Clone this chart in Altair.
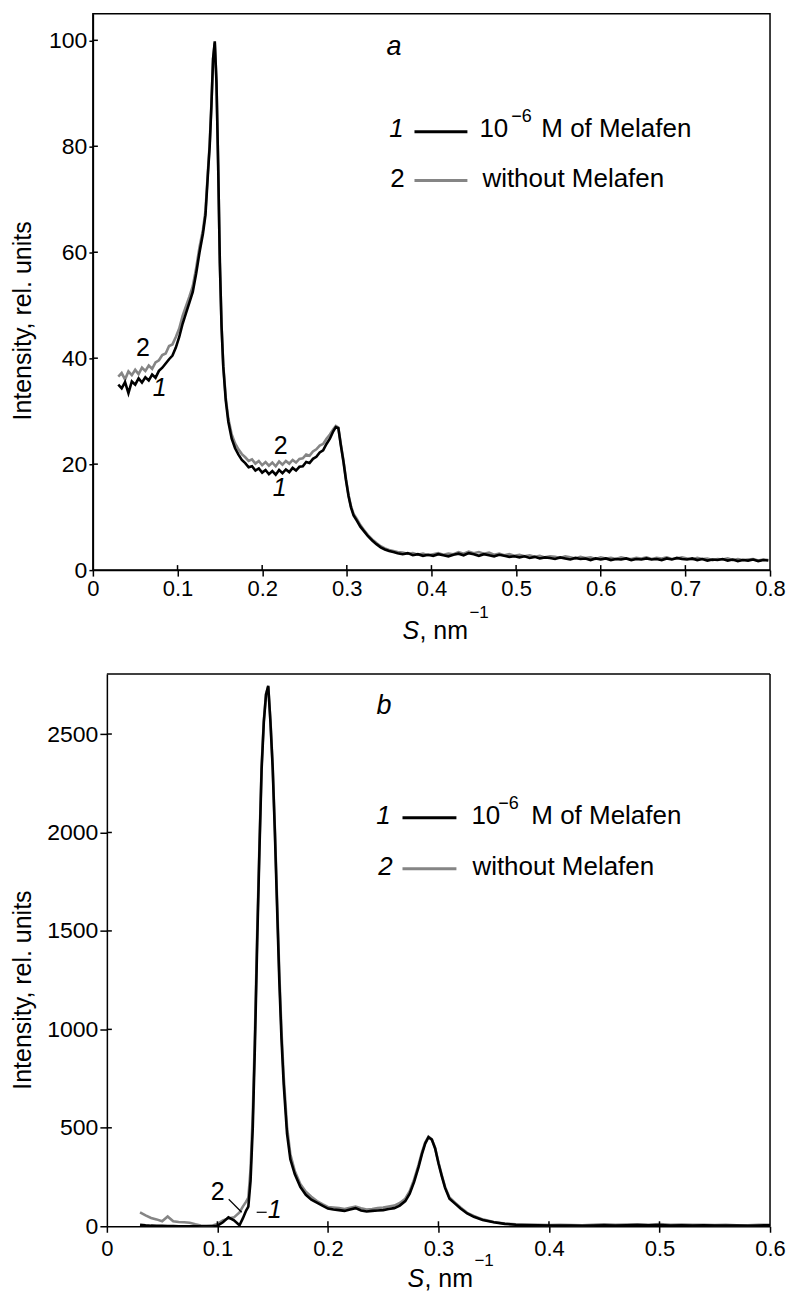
import altair as alt
import pandas as pd

FONT = "Liberation Sans"
BLACK = "#000000"
GRAY = "#858585"

# ---------------- panel a (S, nm^-1  vs  intensity, rel. units) ----------------
S_a = [
    0.030, 0.034, 0.038, 0.042, 0.046, 0.050, 0.054, 0.058, 0.062, 0.066,
    0.070, 0.074, 0.078, 0.082, 0.086, 0.090, 0.094, 0.098, 0.102, 0.106,
    0.110, 0.114, 0.118, 0.122, 0.126, 0.130,
    0.133, 0.136, 0.138, 0.140, 0.142, 0.144, 0.146, 0.148, 0.150, 0.152,
    0.154, 0.157, 0.160, 0.164, 0.168,
    0.172, 0.176, 0.180, 0.184, 0.188, 0.192, 0.196, 0.200, 0.204, 0.208,
    0.212, 0.216, 0.220, 0.224, 0.228, 0.232, 0.236, 0.240, 0.244, 0.248,
    0.252, 0.256, 0.260, 0.264, 0.268, 0.272, 0.276, 0.280, 0.284,
    0.287, 0.290, 0.293, 0.296, 0.299, 0.302, 0.305, 0.308, 0.312, 0.316,
    0.320, 0.325, 0.330, 0.335, 0.340, 0.345, 0.350, 0.355, 0.360,
    0.366, 0.372, 0.378, 0.384, 0.390, 0.396, 0.402, 0.408, 0.414, 0.420,
    0.426, 0.432, 0.438, 0.444, 0.450, 0.456, 0.462, 0.468, 0.474, 0.480,
    0.486, 0.492, 0.498, 0.504, 0.510, 0.516, 0.522, 0.528, 0.534, 0.540,
    0.546, 0.552, 0.558, 0.564, 0.570, 0.576, 0.582, 0.588, 0.594, 0.600,
    0.606, 0.612, 0.618, 0.624, 0.630, 0.636, 0.642, 0.648, 0.654, 0.660,
    0.666, 0.672, 0.678, 0.684, 0.690, 0.696, 0.702, 0.708, 0.714, 0.720,
    0.726, 0.732, 0.738, 0.744, 0.750, 0.756, 0.762, 0.768, 0.774, 0.780,
    0.786, 0.792, 0.798,
]
# curve 1: 10^-6 M of Melafen (black)
I1_a = [
    35.0, 34.3, 35.5, 33.4, 35.6, 35.0, 36.2, 35.4, 36.4, 35.8,
    36.9, 36.3, 37.6, 38.2, 39.0, 39.8, 40.5, 42.0, 44.0, 46.5,
    48.5, 50.5, 52.5, 56.0, 60.0, 63.5,
    67.0, 75.0, 80.0, 87.5, 96.5, 99.8, 92.0, 76.5, 58.0, 46.0,
    38.5, 32.0, 28.0, 24.8, 23.0,
    21.8, 20.8, 20.2, 19.4, 19.6, 18.8, 19.2, 18.4, 18.9, 18.1,
    18.7, 18.0, 18.9, 18.3, 19.0, 18.5, 19.3, 18.8, 19.5, 19.6,
    20.4, 20.2, 21.0, 21.4, 22.2, 22.6, 23.8, 24.8, 26.2,
    27.0, 26.8, 23.5, 20.5, 17.0, 14.0, 11.8, 10.3, 9.3, 8.2,
    7.4, 6.4, 5.6, 4.9, 4.3, 3.9, 3.6, 3.4, 3.2,
    3.0, 3.2, 2.8, 3.0, 2.7, 2.9, 2.7, 3.0, 2.8, 2.6,
    2.9, 3.1, 2.8, 3.2, 3.0, 2.7, 3.0, 2.8, 2.6, 2.9,
    2.7, 2.5, 2.6, 2.4, 2.6, 2.3, 2.5, 2.2, 2.4, 2.3,
    2.1, 2.4, 2.2, 2.0, 2.3, 2.1, 2.2, 1.9, 2.2, 2.0,
    2.2, 1.9, 2.1, 2.0, 2.2, 1.9, 2.1, 2.0, 2.2, 2.0,
    2.1, 1.9, 2.2, 2.0, 2.3, 2.1, 2.0, 2.2, 1.9, 2.1,
    1.8, 2.0, 1.9, 2.1, 1.8, 2.0, 1.7, 1.9, 1.8, 2.0,
    1.7, 1.9, 1.8,
]
# curve 2: without Melafen (gray)
I2_a = [
    36.5, 37.2, 36.0, 37.5, 36.8, 37.8, 37.0, 38.2, 37.6, 38.6,
    38.0, 39.2, 39.6, 40.6, 40.9, 42.3, 42.6, 44.0, 45.6, 48.0,
    49.8, 51.6, 53.6, 57.0, 61.0, 64.2,
    67.8, 75.5, 80.5, 88.0, 96.5, 99.5, 92.5, 76.5, 58.0, 46.2,
    38.8, 32.5, 28.6, 25.6, 23.9,
    22.8, 21.9, 21.3, 20.6, 20.9, 20.1, 20.6, 19.8, 20.4, 19.7,
    20.3, 19.6, 20.5, 19.9, 20.6, 20.1, 20.8, 20.3, 21.0, 21.1,
    21.8, 21.6, 22.4, 22.8, 23.5, 23.8, 24.8, 25.6, 26.6,
    27.2, 26.9, 23.7, 20.7, 17.2, 14.2, 12.0, 10.6, 9.6, 8.5,
    7.6, 6.6, 5.8, 5.1, 4.5, 4.1, 3.8, 3.6, 3.4,
    3.3, 3.1, 3.2, 2.9, 3.1, 2.8, 3.0, 3.2, 2.9, 3.1,
    3.0, 3.4, 3.1, 3.5, 3.2, 3.4, 3.1, 3.3, 2.9, 3.1,
    2.8, 3.0, 2.7, 2.9, 2.6, 2.8, 2.5, 2.7, 2.4, 2.6,
    2.5, 2.3, 2.6, 2.4, 2.2, 2.5, 2.3, 2.4, 2.1, 2.4,
    2.2, 2.3, 2.1, 2.4, 2.2, 2.1, 2.3, 2.2, 2.4, 2.1,
    2.3, 2.2, 2.4, 2.1, 2.2, 2.4, 2.2, 2.0, 2.3, 2.1,
    2.2, 1.9, 2.1, 2.0, 2.2, 1.9, 2.1, 1.9, 2.0, 2.1,
    1.8, 2.0, 1.9,
]

# ---------------- panel b ----------------
S_b = [
    0.030, 0.035, 0.040, 0.045, 0.050, 0.055, 0.060, 0.065, 0.070, 0.075,
    0.080, 0.085, 0.090, 0.095, 0.100, 0.105, 0.110, 0.115, 0.120,
    0.123, 0.126, 0.128, 0.130, 0.132, 0.134, 0.136, 0.138, 0.140, 0.142,
    0.144, 0.146, 0.148, 0.150, 0.152, 0.154, 0.156, 0.158, 0.160, 0.163,
    0.166, 0.170, 0.175,
    0.180, 0.185, 0.190, 0.195, 0.200, 0.205, 0.210, 0.215, 0.220, 0.225,
    0.230, 0.235, 0.240, 0.245, 0.250, 0.255, 0.260, 0.265, 0.270,
    0.274, 0.278, 0.282, 0.285, 0.288, 0.291, 0.294, 0.297, 0.300, 0.303,
    0.306, 0.310, 0.315, 0.320, 0.326, 0.332, 0.340, 0.350, 0.360,
    0.370, 0.380, 0.390, 0.400, 0.410, 0.420, 0.430, 0.440, 0.450, 0.460,
    0.470, 0.480, 0.490, 0.500, 0.510, 0.520, 0.530, 0.540, 0.550, 0.560,
    0.570, 0.580, 0.590, 0.600,
]
I1_b = [
    8, 5, 3, 2, 2, 1, 1, 0, 0, 0,
    0, 0, 0, 0, 3, 20, 45, 30, 5,
    40, 80, 100, 230, 500, 930, 1440, 1900, 2320, 2560,
    2700, 2745, 2560, 2330, 2000, 1620, 1250, 950, 720, 470,
    340, 265, 200,
    160, 135, 120, 105, 90, 85, 82, 78, 85, 92,
    80, 75, 78, 80, 82, 88, 92, 105, 128,
    165, 225, 300, 365, 420, 452, 440, 395, 320, 255,
    195, 140, 115, 90, 65, 48, 32, 20, 12,
    8, 6, 5, 4, 4, 3, 2, 3, 5, 4,
    5, 6, 5, 6, 4, 5, 4, 5, 3, 4,
    3, 2, 4, 5,
]
I2_b = [
    70, 55, 42, 35, 25, 50, 25, 22, 20, 18,
    10, 4, 2, 3, 12, 30, 40, 45, 70,
    100, 125, 146, 290, 570, 990, 1490, 1930, 2340, 2570,
    2705, 2740, 2570, 2340, 2020, 1660, 1290, 990, 760, 505,
    365, 280, 215,
    175, 150, 128, 112, 98, 95, 92, 88, 94, 100,
    92, 85, 88, 92, 95, 100, 105, 118, 140,
    178, 238, 312, 375, 425, 455, 442, 398, 325, 260,
    200, 146, 120, 95, 68, 52, 35, 22, 14,
    10, 8, 7, 6, 8, 6, 5, 7, 10, 8,
    9, 10, 8, 11, 8, 9, 7, 8, 6, 7,
    5, 5, 7, 8,
]

XT_a = [0, 0.1, 0.2, 0.3, 0.4, 0.5, 0.6, 0.7, 0.8]
YT_a = [0, 20, 40, 60, 80, 100]
XT_b = [0, 0.1, 0.2, 0.3, 0.4, 0.5, 0.6]
YT_b = [0, 500, 1000, 1500, 2000, 2500]

one = pd.DataFrame({"k": [0]})


def label(text, x, y, size=26, italic=False, align="left", baseline="alphabetic"):
    return alt.Chart(one).mark_text(
        text=text, font=FONT, fontSize=size,
        fontStyle="italic" if italic else "normal",
        align=align, baseline=baseline, color=BLACK,
    ).encode(x=alt.value(x), y=alt.value(y))


def seg(x1, y1, x2, y2, color=BLACK, w=1.2):
    return alt.Chart(one).mark_rule(color=color, strokeWidth=w).encode(
        x=alt.value(x1), y=alt.value(y1), x2=alt.value(x2), y2=alt.value(y2)
    )


XLABEL = "datum.value == 0 ? '0' : format(datum.value, '.1f')"
YLABEL = "format(datum.value, 'd')"


def panel(S, I1, I2, xdom, ydom, xt, yt, w, h, x0, ytick, xpad, titleX, titleY):
    # x0: pixel where the frame (and the y axis) starts inside the view
    xs = alt.Scale(domain=xdom, range=[x0, w], nice=False, zero=False)
    ys = alt.Scale(domain=ydom, nice=False, zero=False)
    xax = alt.Axis(values=xt, labelExpr=XLABEL, title=None, grid=False,
                   tickSize=6, tickWidth=1.5, tickColor=BLACK,
                   domainColor=BLACK, domainWidth=1.5,
                   labelFont=FONT, labelFontSize=22, labelColor=BLACK,
                   labelPadding=xpad, labelFlush=False, labelOverlap=False)
    yax = alt.Axis(values=yt, labelExpr=YLABEL, grid=False, offset=-x0,
                   title="Intensity, rel. units",
                   titleFont=FONT, titleFontSize=25, titleFontWeight="normal",
                   titleColor=BLACK, titleX=titleX, titleY=titleY,
                   tickSize=ytick, tickWidth=1.5, tickColor=BLACK,
                   domainColor=BLACK, domainWidth=1.5,
                   labelFont=FONT, labelFontSize=23, labelColor=BLACK,
                   labelPadding=2, labelFlush=False, labelOverlap=False)
    d1 = pd.DataFrame(list(zip(S, I1)), columns=["S", "I"])
    d2 = pd.DataFrame(list(zip(S, I2)), columns=["S", "I"])
    gray = alt.Chart(d2).mark_line(color=GRAY, strokeWidth=2.6, clip=True).encode(
        x=alt.X("S:Q", scale=xs, axis=xax), y=alt.Y("I:Q", scale=ys, axis=yax))
    black = alt.Chart(d1).mark_line(color=BLACK, strokeWidth=2.6, clip=True).encode(
        x=alt.X("S:Q", scale=xs), y=alt.Y("I:Q", scale=ys))
    # inner halves of the crossing ticks
    xin = alt.Chart(pd.DataFrame({"v": xt[1:-1]})).mark_rule(color=BLACK, strokeWidth=1.5).encode(
        x=alt.X("v:Q", scale=xs), y=alt.value(h), y2=alt.value(h - 5))
    yin = alt.Chart(pd.DataFrame({"v": yt[1:]})).mark_rule(color=BLACK, strokeWidth=1.5).encode(
        y=alt.Y("v:Q", scale=ys), x=alt.value(x0), x2=alt.value(x0 + 5))
    return [gray, black, xin, yin]


W = 678

# ---------- panel a ----------
HA = 557
la = panel(S_a, I1_a, I2_a, [0, 0.8], [0, 105], XT_a, YT_a, W, HA, 0, 4, 2, -57, 307)
ann_a = [
    label("a", 294, 41, size=27, italic=True),
    label("1", 304, 123, italic=True, align="center"),
    seg(322, 118, 375, 118, BLACK, 3),
    label("10", 387, 123),
    label("\u22126", 419, 108, size=18),
    label("M of Melafen", 449, 123),
    label("2", 305, 173, align="center"),
    seg(322, 167, 375, 167, GRAY, 3),
    label("without Melafen", 390, 173),
    label("2", 50, 335, size=25, align="center", baseline="middle"),
    label("1", 67, 375, size=25, italic=True, align="center", baseline="middle"),
    label("2", 188, 433, size=25, align="center", baseline="middle"),
    label("1", 187, 475, size=25, italic=True, align="center", baseline="middle"),
    label("S", 310, 626, size=25, italic=True),
    label(", nm", 327, 626, size=25),
    label("\u22121", 377, 605, size=17),
]
chart_a = alt.layer(*(la + ann_a)).properties(width=W, height=HA)

# ---------- panel b (frame starts 14 px right of panel a's) ----------
HB = 553
XB = 14
lb = panel(S_b, I1_b, I2_b, [0, 0.6], [0, 2805], XT_b, YT_b, W, HB, XB, 7, 6, -71, 316)
ann_b = [
    seg(XB, 0, W, 0, BLACK, 1.5),
    seg(W, 0, W, HB, BLACK, 1.5),
    label("b", 284, 40, size=27, italic=True),
    label("1", 291, 150, italic=True, align="center"),
    seg(310, 144, 364, 144, BLACK, 3),
    label("10", 379, 150),
    label("\u22126", 406, 135, size=18),
    label("M of Melafen", 439, 150),
    label("2", 293, 201, italic=True, align="center"),
    seg(310, 195, 364, 195, GRAY, 3),
    label("without Melafen", 380, 201),
    label("2", 125, 519, size=25, align="center", baseline="middle"),
    seg(136, 526, 149, 539, BLACK, 1.2),
    seg(164, 539, 174, 539, BLACK, 1.2),
    label("1", 182, 537, size=25, italic=True, align="center", baseline="middle"),
    label("S", 315, 614, size=25, italic=True),
    label(", nm", 332, 614, size=25),
    label("\u22121", 382, 593, size=17),
]
chart_b = alt.layer(*(lb + ann_b)).properties(
    width=W, height=HB, view=alt.ViewBackground(stroke="transparent"))

chart = alt.vconcat(chart_a, chart_b, spacing=27).properties(
    padding={"left": 2, "top": 4, "right": 0, "bottom": 0},
    background="white",
).configure_view(stroke=BLACK, strokeWidth=1.5)

chart.save("out.html", embed_options={"renderer": "svg", "actions": False})
